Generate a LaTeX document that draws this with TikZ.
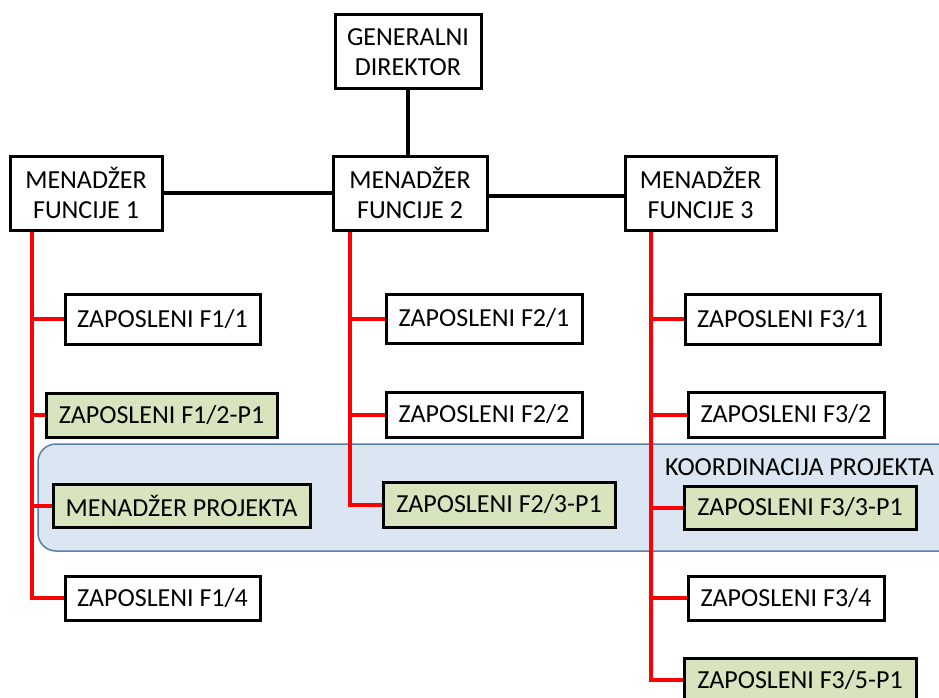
\documentclass[tikz,border=0pt]{standalone}
\usepackage{fontspec}
\setmainfont{Carlito}
\usepackage{xcolor}
\usepackage{tikz}
\usetikzlibrary{calc}
\definecolor{ink}{HTML}{000000}
\definecolor{lead}{HTML}{FF0000}
\definecolor{olive}{HTML}{D7E4BD}
\definecolor{band}{HTML}{DCE6F2}
\definecolor{bandline}{HTML}{5A7EA8}
\tikzset{
  box/.style={draw=ink, line width=3pt, fill=white, inner sep=0pt, align=center,
    text=ink, font=\fontsize{26}{30}\selectfont},
  proj/.style={box, fill=olive},
  tie/.style={draw=ink, line width=4pt},
  feed/.style={draw=lead, line width=4pt},
  zone/.style={draw=bandline, fill=band, line width=1.5pt, rounded corners=18pt},
  lab/.style={text=ink, anchor=west, inner sep=0pt, font=\fontsize{26}{30}\selectfont},
}

\begin{document}
\begin{tikzpicture}[x=1pt, y=-1pt]
  \useasboundingbox (0,0) rectangle (939,698);
  \clip (0,0) rectangle (939,698);
  % project coordination band
  \draw[zone] (38,444) rectangle (970,551);
  \node[lab] (koord) at (665,467) {KOORDINACIJA PROJEKTA};
  % management
  \node[box, minimum width=146pt, minimum height=74pt] (gd) at (408,52) {GENERALNI\\DIREKTOR};
  \node[box, minimum width=152pt, minimum height=74pt] (mf1) at (86,193) {MENADŽER\\FUNCIJE 1};
  \node[box, minimum width=154pt, minimum height=74pt] (mf2) at (410,193) {MENADŽER\\FUNCIJE 2};
  \node[box, minimum width=151pt, minimum height=74pt] (mf3) at (700.5,193) {MENADŽER\\FUNCIJE 3};
  % function 1
  \node[box, minimum width=195pt, minimum height=50pt] (z11) at (162.5,319) {ZAPOSLENI F1/1};
  \node[proj, minimum width=231pt, minimum height=44pt] (z12) at (161.5,415) {ZAPOSLENI F1/2-P1};
  \node[proj, minimum width=257pt, minimum height=43pt] (mp) at (181.5,505.5) {MENADŽER PROJEKTA};
  \node[box, minimum width=195pt, minimum height=44pt] (z14) at (162.5,598) {ZAPOSLENI F1/4};
  % function 2
  \node[box, minimum width=196pt, minimum height=49pt] (z21) at (484,318.5) {ZAPOSLENI F2/1};
  \node[box, minimum width=196pt, minimum height=45pt] (z22) at (484,414.5) {ZAPOSLENI F2/2};
  \node[proj, minimum width=232pt, minimum height=45pt] (z23) at (499,504.5) {ZAPOSLENI F2/3-P1};
  % function 3
  \node[box, minimum width=195pt, minimum height=50pt] (z31) at (782.5,319) {ZAPOSLENI F3/1};
  \node[box, minimum width=196pt, minimum height=45pt] (z32) at (786,414.5) {ZAPOSLENI F3/2};
  \node[proj, minimum width=232pt, minimum height=43pt] (z33) at (800,507.5) {ZAPOSLENI F3/3-P1};
  \node[box, minimum width=196pt, minimum height=44pt] (z34) at (786,598) {ZAPOSLENI F3/4};
  \node[proj, minimum width=232pt, minimum height=44pt] (z35) at (800,680) {ZAPOSLENI F3/5-P1};
  % black links
  \draw[tie] (gd.south) -- (gd.south |- mf2.north);
  \draw[tie] (mf1.east) -- (mf2.west);
  \draw[tie] ([yshift=-3pt]mf2.east) -- ([yshift=-3pt]mf3.west);
  % red feeders
  \foreach \X in {z11,z12,mp,z14}
    \draw[feed] ([xshift=23pt]mf1.south west) |- (\X.west);
  \foreach \X in {z21,z22,z23}
    \draw[feed] ([xshift=18pt]mf2.south west) |- (\X.west);
  \foreach \X in {z31,z32,z33,z34,z35}
    \draw[feed] ([xshift=27pt]mf3.south west) |- (\X.west);
\end{tikzpicture}
\end{document}
